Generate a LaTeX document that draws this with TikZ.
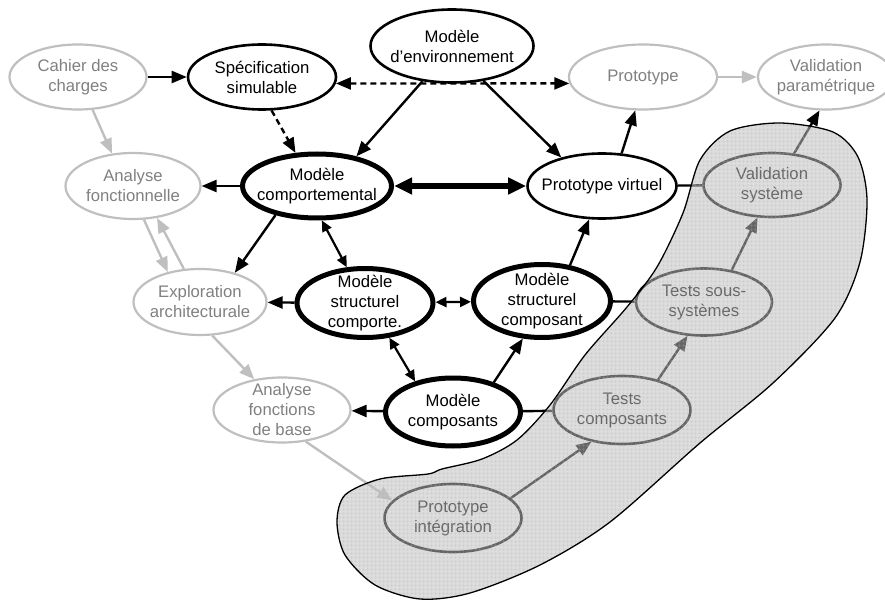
\documentclass[tikz,border=0pt]{standalone}
\usepackage{fontspec}
\setmainfont{Liberation Sans}
\usetikzlibrary{shapes.geometric,arrows.meta,patterns.meta}
\begin{document}
\begin{tikzpicture}[x=1pt, y=-1pt, font=\fontsize{16.7}{20}\selectfont, line join=round, >={Triangle[length=15pt,width=12pt]},
	etat/.style={ellipse, align=center, inner xsep=-25pt, inner ysep=-20pt, minimum width=137pt, minimum height=66pt},
	pale/.style={etat, draw=black!25, line width=2.2pt, text=black!50},
	net/.style={etat, draw=black, line width=2.6pt},
	gras/.style={etat, draw=black, line width=5pt},
	fl/.style={line width=2.4pt, ->},
	flpale/.style={fl, draw=black!25},
	lien/.style={line width=2.4pt},
	petit/.style={line width=2.2pt, {Triangle[length=11pt,width=10pt]}-{Triangle[length=11pt,width=10pt]}},
	pointille/.style={dash pattern=on 6pt off 4pt}]
		\useasboundingbox (0,0) rectangle (885,601);
		\node[pale, minimum height=65pt] (cahier) at (78,77) {Cahier des\\charges};
		\node[net, minimum width=148pt, minimum height=65pt] (spec) at (262,77) {Spécification\\simulable};
		\node[net, minimum width=163pt, minimum height=73pt] (env) at (452,46) {Modèle\\d’environnement};
		\node[pale, minimum width=148pt, minimum height=65pt] (proto) at (643,77) {Prototype};
		\node[pale, minimum width=136pt, minimum height=65pt] (valparam) at (826,77) {Validation\\paramétrique};
		\node[pale, minimum width=135pt] (afonc) at (133,186) {Analyse\\fonctionnelle};
		\node[gras, minimum width=149pt, minimum height=64pt] (comport) at (317,186) {Modèle\\comportemental};
		\node[net, minimum width=149pt, minimum height=65pt] (pvirt) at (602,186) {Prototype virtuel};
		\node[net, minimum width=137pt, minimum height=64pt] (valsys) at (772,185) {Validation\\système};
		\node[pale, minimum width=133pt] (explo) at (200,302) {Exploration\\architecturale};
		\node[gras, minimum width=136pt, minimum height=69pt] (scomporte) at (365,303) {Modèle\\structurel\\comporte.};
		\node[gras, minimum width=137pt, minimum height=73pt] (scomposant) at (542,301) {Modèle\\structurel\\composant};
		\node[net, minimum width=136pt, minimum height=67pt] (tss) at (704,302) {Tests sous-\\systèmes};
		\node[pale, minimum height=65pt] (afb) at (282,410) {Analyse\\fonctions\\de base};
		\node[gras, minimum width=135pt, minimum height=68pt] (composants) at (453,412) {Modèle\\composants};
		\node[net, minimum height=68pt] (tcomp) at (622,410) {Tests\\composants};
		\node[net, minimum height=68pt] (pinteg) at (453,518) {Prototype\\intégration};
		\draw[fl] (cahier) -- (spec);
		\draw[flpale] (cahier.-66) -- (afonc.123);
		\draw[fl, <->, pointille] (spec.-5) -- (proto.185);
		\draw[fl, pointille] (spec.-74) -- (comport.123);
		\draw[fl] (env.-130) -- (comport.37);
		\draw[fl] (env.-48) -- (pvirt.145);
		\draw[line width=5.5pt, {Triangle[length=18pt,width=16pt]}-{Triangle[length=18pt,width=16pt]}] (comport) -- (pvirt);
		\draw[fl] (pvirt.59) -- (proto.-103);
		\draw[flpale] (proto) -- (valparam);
		\draw[fl] (valsys.55) -- (valparam.-101);
		\draw[lien] (pvirt) -- (valsys);
		\draw[fl] (comport) -- (afonc);
		\draw[flpale] (afonc.-72) -- (explo.137);
		\draw[flpale] (explo.116) -- (afonc.-53);
		\draw[fl] (comport.-145) -- (explo.40);
		\draw[petit] (comport.-82) -- (scomporte.117);
		\draw[fl] (scomporte) -- (explo);
		\draw[petit] (scomporte) -- (scomposant);
		\draw[petit] (scomporte.-55) -- (composants.141);
		\draw[fl] (composants.36) -- (scomposant.-117);
		\draw[fl] (scomposant.52) -- (pvirt.-111);
		\draw[lien] (scomposant) -- (tss);
		\draw[fl] (composants) -- (afb);
		\draw[lien] (composants) -- (tcomp);
		\draw[flpale] (explo.-70) -- (afb.132);
		\draw[flpale] (afb.-53) -- (pinteg.164);
		\draw[fl] (pinteg.19) -- (tcomp.-134);
		\draw[fl] (tcomp.40) -- (tss.-116);
		\draw[fl] (tss.49) -- (valsys.-114);
		\path[preaction={fill=black!25, fill opacity=0.53}, preaction={pattern={Hatch[angle=0,distance=4pt,line width=0.4pt]}, pattern color=black!30, fill opacity=0.35}, draw, line width=1.3pt]
			plot[smooth cycle] coordinates {(337,522) (345,495) (380,479) (428,474) (442,469) (482,459) (517,440) (550,405) (585,355) (627,307) (657,267) (683,213) (700,160) (730,131) (780,123) (833,132) (858,157) (867,200) (860,262) (835,318) (773,383) (700,443) (610,522) (540,565) (470,593) (420,599) (375,585) (345,555)};
\end{tikzpicture}
\end{document}
